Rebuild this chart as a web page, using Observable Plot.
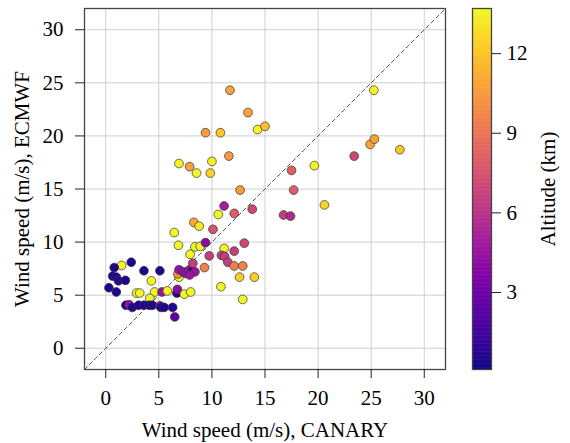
<!DOCTYPE html>
<html>
<head>
<meta charset="utf-8">
<script src="https://cdn.jsdelivr.net/npm/d3@7"></script>
<script src="https://cdn.jsdelivr.net/npm/@observablehq/plot@0.6"></script>
<style>
  body { margin: 0; background: white; }
  #wrap { position: relative; width: 570px; height: 443px; background: white; }
  #wrap svg { position: absolute; top: 0; }
  #wrap svg text { fill: black; }
</style>
</head>
<body>
<div id="wrap"></div>
<script>
// Wind speed (m/s) measured by CANARY (x)
const canary = [
  2.4, 1.5, 0.8, 0.65, 1.0, 1.2, 1.85, 0.3, 1.0, 3.6, 5.1, 4.3, 2.9, 3.2, 4.6, 4.15, 5.3, 5.8, 6.7, 6.75, 7.4, 8.0, 6.9,
  1.9, 2.2, 2.5, 3.1, 3.6, 4.1, 4.4, 5.1, 5.2, 5.5, 6.3, 6.5,
  6.8, 6.9, 7.3, 7.55, 7.85, 8.15, 8.4, 7.9, 8.2, 9.3, 6.45, 6.85, 8.4, 8.9, 9.4, 7.95, 9.75, 11.15, 12.1, 13.05,
  10.9, 11.2, 11.5, 12.1, 12.9, 12.6, 14.0, 10.85, 12.9, 10.1, 8.3, 8.8, 10.6, 11.15, 12.1, 13.8, 16.75, 17.4,
  12.65, 20.6, 17.5, 17.7, 19.65, 23.4, 24.9, 25.3, 27.7, 25.25,
  11.7, 13.4, 9.4, 10.8, 14.3, 15.0, 11.6, 6.9, 7.9, 8.55, 10.0, 9.85
];
// Wind speed (m/s) from ECMWF (y)
const ecmwf = [
  8.1, 7.8, 7.6, 6.8, 6.7, 6.35, 6.4, 5.7, 5.3, 7.3, 7.3, 6.35, 5.2, 5.2, 5.3, 4.7, 5.3, 5.4, 5.2, 5.55, 5.1, 5.3, 6.7,
  4.05, 4.1, 3.85, 4.05, 4.05, 4.05, 4.05, 4.0, 3.85, 3.85, 3.85, 2.95,
  7.0, 7.4, 7.2, 7.05, 7.35, 7.25, 7.2, 6.9, 8.0, 7.6, 10.9, 9.7, 9.55, 9.6, 9.95, 8.85, 8.7, 9.4, 9.15, 9.9,
  8.75, 8.65, 8.1, 7.75, 7.75, 6.7, 6.7, 5.8, 4.6, 11.2, 11.85, 11.5, 12.6, 13.4, 12.7, 13.1, 12.55, 12.45,
  14.9, 13.5, 16.75, 14.9, 17.2, 18.1, 19.2, 19.7, 18.7, 24.3,
  24.3, 22.2, 20.3, 20.3, 20.6, 20.9, 18.1, 17.4, 17.1, 16.5, 17.6, 16.5
];
// Altitude (km) of each measurement (colour)
const altitude = [
  0.5, 13.5, 0.5, 0.5, 0.5, 0.6, 0.5, 0.4, 0.5, 0.5, 0.5, 13.5, 13.5, 13.5, 13.5, 13.5, 4.5, 13.5, 0.6, 4.0, 13.5, 13.5, 13.5,
  0.5, 4.5, 0.5, 0.5, 0.5, 0.5, 0.5, 4.5, 0.5, 0.5, 0.5, 2.6,
  10.0, 4.5, 4.5, 4.5, 4.5, 0.6, 4.5, 4.5, 6.5, 9.5, 13.5, 13.5, 13.5, 13.5, 4.0, 13.5, 6.5, 13.5, 6.5, 7.0,
  6.5, 6.5, 6.5, 9.5, 9.5, 12.3, 12.3, 13.5, 13.5, 7.5, 11.0, 13.2, 13.5, 5.0, 8.0, 7.0, 6.5, 5.5,
  10.5, 12.5, 8.0, 8.0, 13.5, 7.0, 10.8, 10.8, 12.0, 13.5,
  10.8, 10.8, 10.5, 12.0, 13.5, 11.8, 10.5, 13.5, 10.8, 13.5, 13.3, 12.5
];

const xTicks = [0, 5, 10, 15, 20, 25, 30];
const yTicks = [0, 5, 10, 15, 20, 25, 30];
const altTicks = [3, 6, 9, 12];
const axisDomain = [-2, 32];
const altDomain = [0.1, 13.7];
const xLabel = "Wind speed (m/s), CANARY";
const yLabel = "Wind speed (m/s), ECMWF";
const cLabel = "Altitude (km)";

const data = canary.map((c, i) => ({canary: c, ecmwf: ecmwf[i], altitude: altitude[i]}));
const diagonal = axisDomain;

const serif = "Liberation Serif";
const font = {fontFamily: serif, fontSize: "21px", background: "white", color: "black", overflow: "visible"};
const textOpts = {fontFamily: serif, fontSize: 21, fontVariant: "normal", fill: "black"};
const colorScale = {type: "linear", scheme: "plasma", domain: altDomain};
const noText = () => "";

const main = Plot.plot({
  width: 456, height: 443,
  marginLeft: 84, marginRight: 11, marginTop: 8, marginBottom: 74,
  style: font,
  x: {domain: axisDomain, label: null, axis: null},
  y: {domain: axisDomain, label: null, axis: null},
  color: colorScale,
  marks: [
    Plot.gridX(xTicks, {stroke: "#cfcfcf", strokeOpacity: 1, strokeWidth: 1}),
    Plot.gridY(yTicks, {stroke: "#cfcfcf", strokeOpacity: 1, strokeWidth: 1}),
    Plot.line(diagonal, {x: d => d, y: d => d, stroke: "#555", strokeWidth: 1, strokeDasharray: "4,3"}),
    Plot.dot(data, {x: "canary", y: "ecmwf", fill: "altitude", r: 4.4, stroke: "#333", strokeWidth: 0.7}),
    Plot.frame({stroke: "#444", strokeWidth: 1.3}),
    Plot.axisX(xTicks, {tickSize: 9, tickFormat: noText, label: null, stroke: "#222"}),
    Plot.axisY(yTicks, {tickSize: 9, tickFormat: noText, label: null, stroke: "#222"}),
    Plot.text(xTicks, {x: d => d, text: d => `${d}`, frameAnchor: "bottom", textAnchor: "middle", lineAnchor: "top", dy: 21, ...textOpts}),
    Plot.text(yTicks, {y: d => d, text: d => `${d}`, frameAnchor: "left", textAnchor: "end", lineAnchor: "middle", dx: -21, ...textOpts}),
    Plot.text([xLabel], {frameAnchor: "bottom", textAnchor: "middle", lineAnchor: "middle", dy: 60.5, ...textOpts}),
    Plot.text([yLabel], {frameAnchor: "left", textAnchor: "middle", lineAnchor: "middle", rotate: -90, dx: -62, ...textOpts})
  ]
});
main.style.left = "0px";

const gradient = d3.range(altDomain[0], altDomain[1], 0.05);
const bar = Plot.plot({
  width: 98, height: 443,
  marginLeft: 0, marginRight: 79, marginTop: 8, marginBottom: 74,
  style: font,
  x: {domain: [0, 1], axis: null},
  y: {domain: altDomain, axis: null},
  color: colorScale,
  marks: [
    Plot.rect(gradient, {x1: 0, x2: 1, y1: d => d, y2: d => Math.min(d + 0.07, altDomain[1]), fill: d => d + 0.025}),
    Plot.frame({stroke: "#444", strokeWidth: 1.3}),
    Plot.axisY(altTicks, {anchor: "right", tickSize: 9, tickFormat: noText, label: null, stroke: "#222"}),
    Plot.text(altTicks, {y: d => d, text: d => `${d}`, frameAnchor: "right", textAnchor: "start", lineAnchor: "middle", dx: 15, ...textOpts}),
    Plot.text([cLabel], {frameAnchor: "right", textAnchor: "middle", lineAnchor: "middle", rotate: -90, dx: 57, ...textOpts})
  ]
});
bar.style.left = "472px";

const wrap = document.getElementById("wrap");
wrap.appendChild(main);
wrap.appendChild(bar);
</script>
</body>
</html>
